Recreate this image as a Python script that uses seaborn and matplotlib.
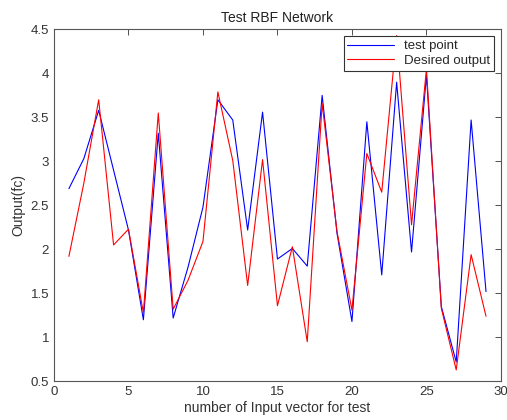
import numpy as np
import pandas as pd
import matplotlib
matplotlib.use("Agg")
import matplotlib.pyplot as plt
import seaborn as sns

x_index = list(range(1, 30))
test_point = [2.69, 3.03, 3.58, 2.90, 2.22, 1.20, 3.32, 1.22, 1.80, 2.48,
              3.70, 3.47, 2.22, 3.56, 1.89, 2.01, 1.81, 3.75, 2.18, 1.18,
              3.45, 1.71, 3.90, 1.97, 3.98, 1.35, 0.72, 3.47, 1.52]
desired_output = [1.92, 2.75, 3.70, 2.05, 2.23, 1.28, 3.55, 1.32, 1.65, 2.09,
                  3.79, 3.01, 1.59, 3.02, 1.36, 2.03, 0.95, 3.66, 2.20, 1.31,
                  3.09, 2.65, 4.43, 2.28, 4.05, 1.33, 0.63, 1.94, 1.24]

df = pd.concat([
    pd.DataFrame({"x": x_index, "y": test_point, "series": "test point"}),
    pd.DataFrame({"x": x_index, "y": desired_output, "series": "Desired output"}),
])

sns.set_style("white")
plt.rcParams['font.family'] = ['Liberation Sans', 'DejaVu Sans']

fig = plt.figure(figsize=(5.07, 4.20), dpi=100)
ax = fig.add_axes([0.1065, 0.092, 0.8815, 0.838])
sns.lineplot(data=df, x="x", y="y", hue="series",
             palette={"test point": "#0000ff", "Desired output": "#ff0000"},
             linewidth=0.8, ax=ax, legend=True)

ax.set_xlim(0, 30)
ax.set_ylim(0.5, 4.5)
ax.set_xticks(range(0, 31, 5))
ax.set_yticks(np.arange(0.5, 4.51, 0.5))
ax.set_yticklabels(["0.5", "1", "1.5", "2", "2.5", "3", "3.5", "4", "4.5"])
ax.tick_params(direction="in", length=4, top=True, right=True,
               labelsize=9.5, colors="#333333", width=0.6)
for s in ax.spines.values():
    s.set_color("#555555")
    s.set_linewidth(0.8)
ax.set_title("Test RBF Network", fontsize=10, color="#222222", pad=5)
ax.set_xlabel("number of Input vector for test", fontsize=10, color="#333333", labelpad=2)
ax.set_ylabel("Output(fc)", fontsize=10, color="#333333", labelpad=4)

leg = ax.legend(loc="upper right", fontsize=9.5, frameon=True, fancybox=False,
                framealpha=1.0, borderaxespad=0.5, handlelength=3.5,
                labelspacing=0.2, borderpad=0.3)
leg.get_frame().set_edgecolor("#333333")
leg.get_frame().set_linewidth(0.8)

fig.savefig("out.png", dpi=100)
